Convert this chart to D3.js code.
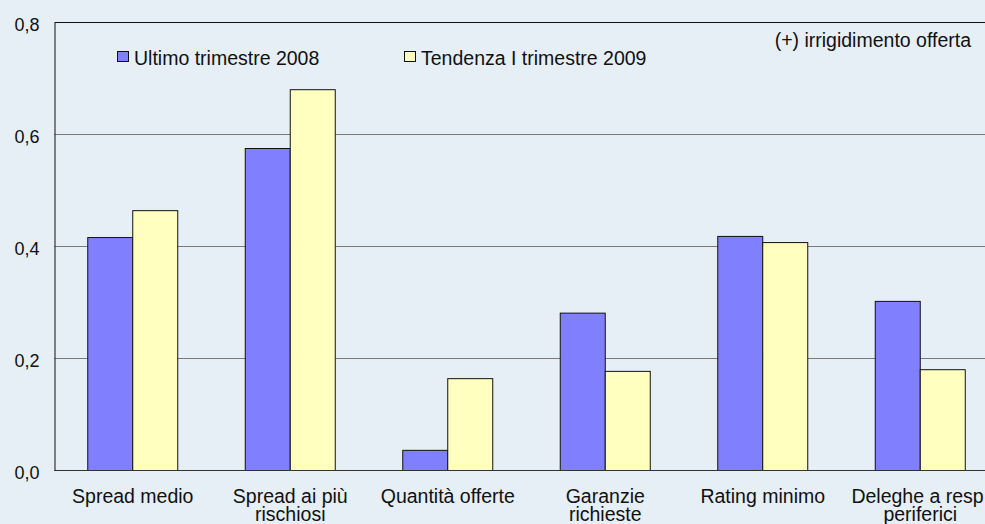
<!DOCTYPE html>
<html>
<head>
<meta charset="utf-8">
<script src="https://cdn.jsdelivr.net/npm/d3@7"></script>
<style>
  html, body { margin: 0; padding: 0; background: #e6eef6; }
  svg { display: block; }
  text { font-family: "Liberation Sans", Arial, sans-serif; fill: #111; }
</style>
</head>
<body>
<svg id="chart" width="985" height="524"></svg>
<script>
// data
var categories = ["Spread medio", "Spread ai più rischiosi", "Quantità offerte",
                  "Garanzie richieste", "Rating minimo", "Deleghe a resp. periferici"];
var categoryLines = [["Spread medio"], ["Spread ai più", "rischiosi"], ["Quantità offerte"],
                     ["Garanzie", "richieste"], ["Rating minimo"], ["Deleghe a resp.", "periferici"]];
var seriesNames = ["Ultimo trimestre 2008", "Tendenza I trimestre 2009"];
var ultimo2008 = [0.416, 0.575, 0.036, 0.281, 0.418, 0.302];
var tendenza2009 = [0.464, 0.680, 0.164, 0.177, 0.407, 0.180];
var yTicks = [0, 0.2, 0.4, 0.6, 0.8];
var colors = ["#8080ff", "#ffffc0"];

var svg = d3.select("#chart");

// plot area (right edge runs a bit past the window)
var pLeft = 54.5, pRight = 999, pTop = 22.5, pBottom = 470.5;

var x = d3.scaleBand().domain(categories).range([54, pRight])
    .paddingInner(0.4286).paddingOuter(0.2143);
var xs = d3.scaleBand().domain(seriesNames).range([0, x.bandwidth()]);
var y = d3.scaleLinear().domain([0, 0.8]).range([pBottom, pTop]);

var rows = categories.map(function(c, i){
    return {cat: c, values: [ultimo2008[i], tendenza2009[i]]};
});

// gridlines
svg.append("g").attr("class", "grid")
    .selectAll("line")
    .data(yTicks.filter(function(d){ return d > 0 && d < 0.8; }))
    .enter().append("line")
    .attr("x1", pLeft).attr("x2", 985)
    .attr("y1", function(d){ return y(d); })
    .attr("y2", function(d){ return y(d); })
    .attr("stroke", "#7a7a7a").attr("stroke-width", 1);

// bars
var group = svg.append("g").attr("class", "bars")
    .selectAll("g")
    .data(rows)
    .enter().append("g")
    .attr("transform", function(d){ return "translate(" + x(d.cat) + ",0)"; });

group.selectAll("rect")
    .data(function(d){ return d.values.map(function(v, i){ return {s: seriesNames[i], v: v, i: i}; }); })
    .enter().append("rect")
    .attr("x", function(d){ return xs(d.s); })
    .attr("y", function(d){ return y(d.v); })
    .attr("width", xs.bandwidth())
    .attr("height", function(d){ return y(0) - y(d.v); })
    .attr("fill", function(d){ return colors[d.i]; })
    .attr("stroke", "#111").attr("stroke-width", 1);

// frame: top line and baseline
svg.append("line").attr("x1", pLeft).attr("x2", 985).attr("y1", y(0.8)).attr("y2", y(0.8))
    .attr("stroke", "#111");
svg.append("line").attr("x1", pLeft).attr("x2", 985).attr("y1", y(0)).attr("y2", y(0))
    .attr("stroke", "#333");

var yAxis = d3.axisLeft(y).tickValues(yTicks).tickSize(0).tickPadding(15)
    .tickFormat(function(d){ return d3.format(".1f")(d).replace(".", ","); });
var ga = svg.append("g").attr("transform", "translate(" + pLeft + ",0)").call(yAxis);
ga.select(".domain").attr("stroke", "#111");
ga.selectAll("text").attr("font-size", 18).attr("dy", "0.45em")
    .style("font-family", "Liberation Sans, Arial, sans-serif").attr("fill", "#111");

// category labels
var lab = svg.append("g").attr("class", "xlabels")
    .selectAll("text")
    .data(categories)
    .enter().append("text")
    .attr("text-anchor", "middle")
    .attr("font-size", 19.5)
    .attr("transform", function(d){ return "translate(" + (x(d) + x.bandwidth() / 2) + ",503)"; });
lab.selectAll("tspan")
    .data(function(d, i){ return categoryLines[i]; })
    .enter().append("tspan")
    .attr("x", 0)
    .attr("y", function(d, i){ return i * 18; })
    .text(function(d){ return d; });

// legend
var legendX = [117, 404];
var leg = svg.append("g").attr("class", "legend")
    .selectAll("g")
    .data(seriesNames)
    .enter().append("g")
    .attr("transform", function(d, i){ return "translate(" + legendX[i] + ",51.5)"; });
leg.append("rect").attr("x", 0.5).attr("y", 0).attr("width", 11).attr("height", 10)
    .attr("fill", function(d, i){ return colors[i]; })
    .attr("stroke", "#111");
leg.append("text").attr("x", 17).attr("y", 13.5).attr("font-size", 19.5)
    .text(function(d){ return d; });

svg.append("text").attr("x", 971).attr("y", 47).attr("text-anchor", "end")
    .attr("font-size", 19.5).text("(+) irrigidimento offerta");
</script>
</body>
</html>
